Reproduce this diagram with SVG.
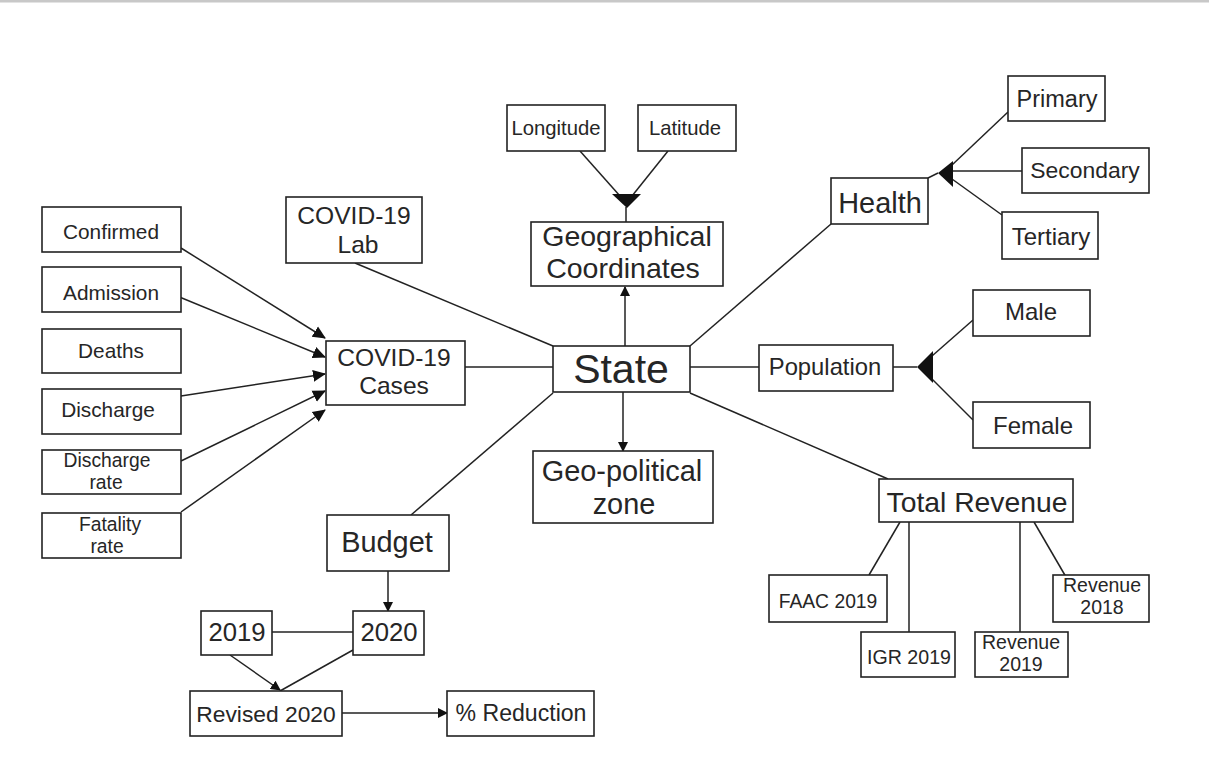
<svg xmlns="http://www.w3.org/2000/svg" width="1209" height="775" viewBox="0 0 1209 775">
<defs>
<style>
.b{fill:#fff;stroke:#222;stroke-width:1.6}
.t{font-family:"Liberation Sans",Arial,sans-serif;fill:#262626;text-anchor:middle}
.c line{stroke:#222;stroke-width:1.5;fill:none}
.h{fill:#111}
</style>
<marker id="a" markerWidth="10" markerHeight="10" refX="9" refY="5" orient="auto" markerUnits="userSpaceOnUse"><path d="M0,0L10,5L0,10z" fill="#111"/></marker>
<marker id="s" markerWidth="14" markerHeight="14" refX="12" refY="7" orient="auto" markerUnits="userSpaceOnUse"><path d="M0,1L13,7L0,13z" fill="#111"/></marker>
</defs>
<rect width="1209" height="775" fill="#fff"/>
<line x1="0" y1="1" x2="1209" y2="1" stroke="#c8c8c8" stroke-width="3"/>
<g class="c" id="connectors">
<line x1="181" y1="248" x2="325" y2="338" marker-end="url(#s)"/>
<line x1="177" y1="296" x2="325" y2="357" marker-end="url(#s)"/>
<line x1="181" y1="396" x2="325" y2="374" marker-end="url(#s)"/>
<line x1="181" y1="461" x2="325" y2="391" marker-end="url(#s)"/>
<line x1="181" y1="512" x2="325" y2="410" marker-end="url(#s)"/>
<line x1="465" y1="367" x2="553" y2="367"/>
<line x1="355" y1="263" x2="553" y2="346"/>
<line x1="553" y1="393" x2="411" y2="515"/>
<line x1="580" y1="151" x2="620" y2="196"/>
<line x1="668" y1="151" x2="632" y2="196"/>
<line x1="626" y1="207" x2="626" y2="222"/>
<line x1="625" y1="346" x2="625" y2="287" marker-end="url(#a)"/>
<line x1="623" y1="392" x2="623" y2="451" marker-end="url(#a)"/>
<line x1="690" y1="346" x2="831" y2="224"/>
<line x1="928" y1="178" x2="938" y2="173"/>
<line x1="1008" y1="112" x2="952" y2="165"/>
<line x1="1022" y1="171" x2="952" y2="171"/>
<line x1="1002" y1="215" x2="952" y2="179"/>
<line x1="690" y1="367" x2="759" y2="367"/>
<line x1="893" y1="367" x2="917" y2="367"/>
<line x1="973" y1="320" x2="932" y2="356"/>
<line x1="973" y1="420" x2="932" y2="379"/>
<line x1="690" y1="393" x2="888" y2="479"/>
<line x1="900" y1="522" x2="869" y2="575"/>
<line x1="909" y1="522" x2="909" y2="632"/>
<line x1="1020" y1="522" x2="1020" y2="632"/>
<line x1="1034" y1="522" x2="1066" y2="577"/>
<line x1="388" y1="571" x2="388" y2="611" marker-end="url(#a)"/>
<line x1="272" y1="632" x2="353" y2="632"/>
<line x1="230" y1="655" x2="280" y2="690" marker-end="url(#a)"/>
<line x1="353" y1="650" x2="280" y2="691"/>
<line x1="342" y1="713" x2="447" y2="713" marker-end="url(#a)"/>
<path class="h" d="M612,194L641,194L627,208z"/>
<path class="h" d="M938,173L953,161L953,187z"/>
<path class="h" d="M917,367L933,351L933,383z"/>
</g>
<g id="confirmed"><rect class="b" x="42" y="207" width="139" height="45"/><text class="t" x="111" y="239" font-size="20.8">Confirmed</text></g>
<g id="admission"><rect class="b" x="42" y="267" width="139" height="45"/><text class="t" x="111" y="300" font-size="20.8">Admission</text></g>
<g id="deaths"><rect class="b" x="42" y="329" width="139" height="44"/><text class="t" x="111" y="358" font-size="20.8">Deaths</text></g>
<g id="discharge"><rect class="b" x="42" y="389" width="139" height="45"/><text class="t" x="108" y="417" font-size="20.8">Discharge</text></g>
<g id="discharge-rate"><rect class="b" x="42" y="450" width="139" height="44"/><text class="t" x="107" y="467" font-size="19.3">Discharge</text><text class="t" x="106" y="489" font-size="19.3">rate</text></g>
<g id="fatality-rate"><rect class="b" x="42" y="513" width="139" height="45"/><text class="t" x="110" y="531" font-size="19.3">Fatality</text><text class="t" x="107" y="553" font-size="19.3">rate</text></g>
<g id="covid-lab"><rect class="b" x="286" y="197" width="136" height="66"/><text class="t" x="354" y="224" font-size="24.6">COVID-19</text><text class="t" x="358" y="253" font-size="24.6">Lab</text></g>
<g id="covid-cases"><rect class="b" x="326" y="341" width="139" height="64"/><text class="t" x="394" y="366" font-size="24.6">COVID-19</text><text class="t" x="394" y="394" font-size="24.6">Cases</text></g>
<g id="longitude"><rect class="b" x="507" y="105" width="98" height="46"/><text class="t" x="556" y="135" font-size="20.3">Longitude</text></g>
<g id="latitude"><rect class="b" x="638" y="105" width="98" height="46"/><text class="t" x="685" y="135" font-size="20.3">Latitude</text></g>
<g id="geo-coords"><rect class="b" x="531" y="222" width="192" height="64"/><text class="t" x="627" y="246" font-size="28.5">Geographical</text><text class="t" x="623" y="278" font-size="28.5">Coordinates</text></g>
<g id="state"><rect class="b" x="553" y="346" width="137" height="46"/><text class="t" x="621" y="383" font-size="41">State</text></g>
<g id="geo-political"><rect class="b" x="533" y="451" width="180" height="72"/><text class="t" x="622" y="481" font-size="28.9">Geo-political</text><text class="t" x="624" y="514" font-size="28.9">zone</text></g>
<g id="health"><rect class="b" x="831" y="178" width="97" height="46"/><text class="t" x="880" y="213" font-size="28.9">Health</text></g>
<g id="primary"><rect class="b" x="1008" y="76" width="97" height="45"/><text class="t" x="1057" y="107" font-size="23.5">Primary</text></g>
<g id="secondary"><rect class="b" x="1022" y="148" width="127" height="45"/><text class="t" x="1085" y="178" font-size="22.9">Secondary</text></g>
<g id="tertiary"><rect class="b" x="1002" y="212" width="96" height="47"/><text class="t" x="1051" y="245" font-size="24">Tertiary</text></g>
<g id="population"><rect class="b" x="759" y="345" width="134" height="46"/><text class="t" x="825" y="375" font-size="23.8">Population</text></g>
<g id="male"><rect class="b" x="973" y="290" width="117" height="46"/><text class="t" x="1031" y="320" font-size="24">Male</text></g>
<g id="female"><rect class="b" x="973" y="402" width="117" height="46"/><text class="t" x="1033" y="434" font-size="24">Female</text></g>
<g id="total-revenue"><rect class="b" x="879" y="479" width="194" height="43"/><text class="t" x="977" y="512" font-size="28.3">Total Revenue</text></g>
<g id="faac"><rect class="b" x="769" y="575" width="118" height="47"/><text class="t" x="828" y="608" font-size="19.3">FAAC 2019</text></g>
<g id="igr"><rect class="b" x="861" y="632" width="94" height="45"/><text class="t" x="909" y="664" font-size="19.6">IGR 2019</text></g>
<g id="revenue-2019"><rect class="b" x="975" y="632" width="93" height="45"/><text class="t" x="1021" y="649" font-size="19.5">Revenue</text><text class="t" x="1021" y="671" font-size="19.5">2019</text></g>
<g id="revenue-2018"><rect class="b" x="1053" y="575" width="96" height="47"/><text class="t" x="1102" y="592" font-size="19.5">Revenue</text><text class="t" x="1102" y="614" font-size="19.5">2018</text></g>
<g id="budget"><rect class="b" x="327" y="515" width="122" height="56"/><text class="t" x="387" y="552" font-size="28.9">Budget</text></g>
<g id="y2020"><rect class="b" x="353" y="611" width="71" height="44"/><text class="t" x="389" y="641" font-size="25.7">2020</text></g>
<g id="y2019"><rect class="b" x="201" y="611" width="71" height="44"/><text class="t" x="237" y="641" font-size="25.7">2019</text></g>
<g id="revised-2020"><rect class="b" x="190" y="691" width="152" height="45"/><text class="t" x="266" y="722" font-size="22.8">Revised 2020</text></g>
<g id="reduction"><rect class="b" x="447" y="691" width="147" height="45"/><text class="t" x="521" y="721" font-size="23.1">% Reduction</text></g>
</svg>
